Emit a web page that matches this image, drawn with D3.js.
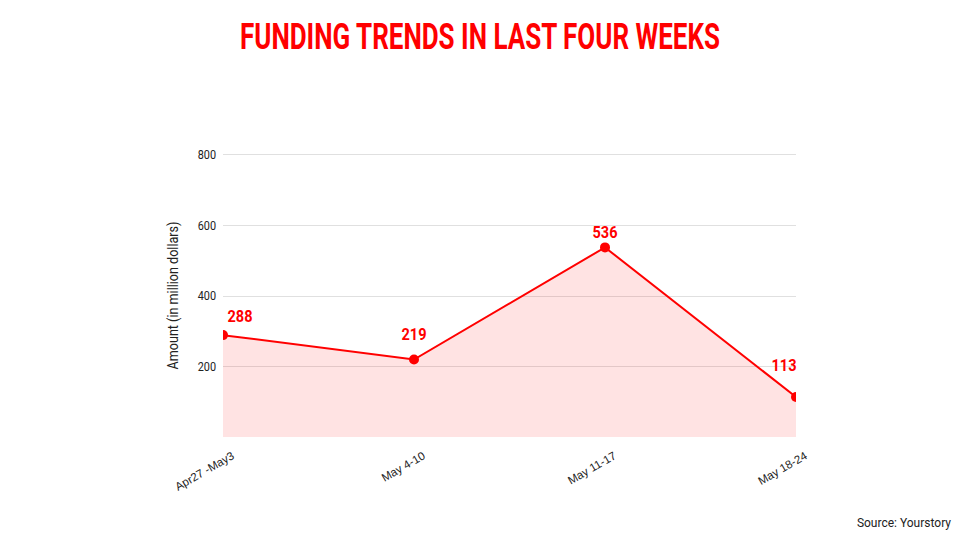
<!DOCTYPE html>
<html>
<head>
<meta charset="utf-8">
<script src="https://cdn.jsdelivr.net/npm/d3@7"></script>
<style>
  html, body { margin: 0; padding: 0; background: #fff; }
  svg { display: block; }
</style>
</head>
<body>
<svg id="chart" width="960" height="540"></svg>
<script>
const categories = ["Apr27 -May3", "May 4-10", "May 11-17", "May 18-24"];
const amounts = [288, 219, 536, 113];
const yTicks = [200, 400, 600, 800];
const titleText = "FUNDING TRENDS IN LAST FOUR WEEKS";
const yAxisTitle = "Amount (in million dollars)";
const sourceText = "Source: Yourstory";

// label placement offsets (layout only)
const labelDx = [17, 0, 0, -12];
const labelDy = [-13, -20, -9, -26];

const svg = d3.select("#chart");
const plotLeft = 223, plotRight = 796, plotTop = 154, plotBottom = 437;

const x = d3.scalePoint().domain(categories).range([plotLeft, plotRight]);
const y = d3.scaleLinear().domain([0, 800]).range([plotBottom, plotTop]);

// title
svg.append("text")
  .attr("x", 480).attr("y", 49)
  .attr("text-anchor", "middle")
  .attr("font-family", "Roboto, 'Liberation Sans', sans-serif")
  .attr("font-weight", "bold")
  .attr("font-size", 36)
  .attr("fill", "#ff0000")
  .attr("textLength", 480)
  .attr("lengthAdjust", "spacingAndGlyphs")
  .text(titleText);

// gridlines
svg.append("g").selectAll("line").data(yTicks).join("line")
  .attr("x1", plotLeft).attr("x2", plotRight)
  .attr("y1", d => Math.round(y(d)) + 0.5).attr("y2", d => Math.round(y(d)) + 0.5)
  .attr("stroke", "#e0e0e0").attr("stroke-width", 1);

// y tick labels
svg.append("g").selectAll("text").data(yTicks).join("text")
  .attr("x", 216).attr("y", d => y(d))
  .attr("dy", "0.36em")
  .attr("text-anchor", "end")
  .attr("font-family", "Roboto, 'Liberation Sans', sans-serif")
  .attr("font-size", 13.5)
  .attr("fill", "#222")
  .attr("textLength", d => String(d).length * 6.1)
  .attr("lengthAdjust", "spacingAndGlyphs")
  .text(d => d);

// y axis title
svg.append("text")
  .attr("transform", `translate(178, ${(plotTop + plotBottom) / 2}) rotate(-90)`)
  .attr("text-anchor", "middle")
  .attr("font-family", "Roboto, 'Liberation Sans', sans-serif")
  .attr("font-size", 14)
  .attr("fill", "#222")
  .attr("textLength", 148)
  .attr("lengthAdjust", "spacingAndGlyphs")
  .text(yAxisTitle);

// clip
svg.append("clipPath").attr("id", "plotclip")
  .append("rect").attr("x", plotLeft).attr("y", plotTop - 20)
  .attr("width", plotRight - plotLeft).attr("height", plotBottom - plotTop + 20);

const data = categories.map((c, i) => ({ c, v: amounts[i], i }));
const plot = svg.append("g").attr("clip-path", "url(#plotclip)");

plot.append("path").datum(data)
  .attr("d", d3.area().x(d => x(d.c)).y0(y(0)).y1(d => y(d.v)))
  .attr("fill", "#ff0000").attr("fill-opacity", 0.11);

plot.append("path").datum(data)
  .attr("d", d3.line().x(d => x(d.c)).y(d => y(d.v)))
  .attr("fill", "none").attr("stroke", "#ff0000").attr("stroke-width", 2);

plot.selectAll("circle").data(data).join("circle")
  .attr("cx", d => x(d.c)).attr("cy", d => y(d.v)).attr("r", 5)
  .attr("fill", "#ff0000");

// data labels
svg.append("g").selectAll("text").data(data).join("text")
  .attr("x", d => x(d.c) + labelDx[d.i])
  .attr("y", d => y(d.v) + labelDy[d.i])
  .attr("text-anchor", "middle")
  .attr("font-family", "Roboto, 'Liberation Sans', sans-serif")
  .attr("font-weight", "bold")
  .attr("font-size", 16)
  .attr("fill", "#ff0000")
  .attr("textLength", 25)
  .attr("lengthAdjust", "spacingAndGlyphs")
  .text(d => d.v);

// x labels
svg.append("g").selectAll("text").data(categories).join("text")
  .attr("transform", d => `translate(${x(d) + 12}, 458) rotate(-30)`)
  .attr("text-anchor", "end")
  .attr("font-family", "'Liberation Sans', Arial, sans-serif")
  .attr("font-size", 11.5)
  .attr("fill", "#222")
  .text(d => d);

// source
svg.append("text")
  .attr("x", 951).attr("y", 527)
  .attr("text-anchor", "end")
  .attr("font-family", "Roboto, sans-serif")
  .attr("font-size", 12)
  .attr("fill", "#222")
  .text(sourceText);
</script>
</body>
</html>
